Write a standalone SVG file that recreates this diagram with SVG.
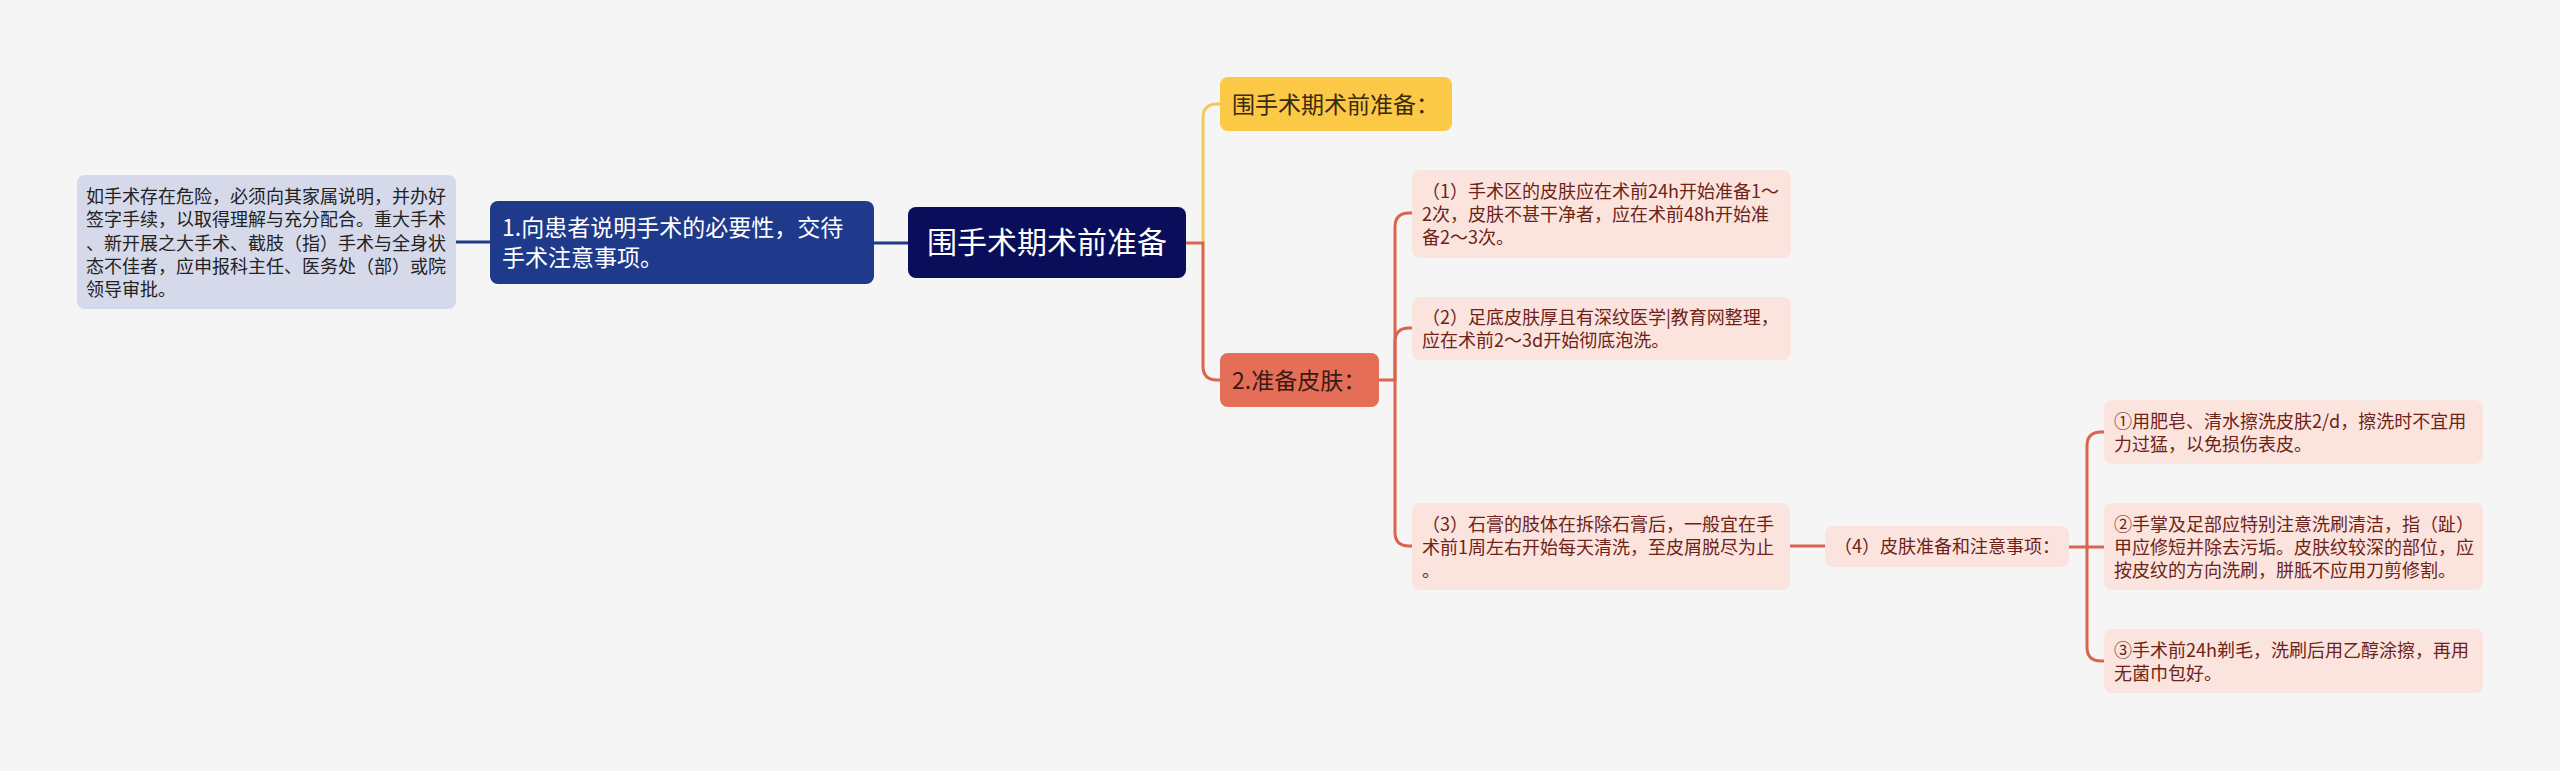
<svg xmlns="http://www.w3.org/2000/svg" width="2560" height="771" viewBox="0 0 2560 771">
<style>
text{font-family:"Noto Sans CJK SC","Noto Sans",sans-serif;}
.t18{font-size:18px;}
.pink{fill:#fbe4de;}
.pt{fill:#6e2318;}
.c{fill:none;stroke-width:3;stroke-linecap:round;}
.blue{stroke:#1f3a8a;}
.red{stroke:#d9654f;}
.yel{stroke:#f5c85a;}
</style>
<rect width="2560" height="771" fill="#f5f5f5"/>
<g id="connectors">
<path class="c blue" d="M456 242 H490"/>
<path class="c blue" d="M874 243 H908"/>
<path class="c yel" d="M1203 243 V118 Q1203 104 1217 104 H1220"/>
<path class="c red" d="M1186 243 H1203 V366 Q1203 380 1217 380 H1220"/>
<path class="c red" d="M1378 380 H1395"/>
<path class="c red" d="M1395 380 V227 Q1395 213 1409 213 H1412"/>
<path class="c red" d="M1395 380 V342 Q1395 328 1409 328 H1412"/>
<path class="c red" d="M1395 380 V532 Q1395 546 1409 546 H1412"/>
<path class="c red" d="M1790 546 H1825"/>
<path class="c red" d="M2069 547 H2087"/>
<path class="c red" d="M2087 547 V446 Q2087 432 2101 432 H2104"/>
<path class="c red" d="M2087 547 H2104"/>
<path class="c red" d="M2087 547 V647 Q2087 661 2101 661 H2104"/>
</g>
<g id="root">
<rect x="908" y="207" width="278" height="71" rx="8" fill="#0a0e5a"/>
<text x="1047" y="253" font-size="30" fill="#ffffff" text-anchor="middle">围手术期术前准备</text>
</g>
<g id="node1">
<rect x="490" y="201" width="384" height="83" rx="8" fill="#1f3a8a"/>
<text x="502" y="236" font-size="23" fill="#ffffff">1.向患者说明手术的必要性，交待</text>
<text x="502" y="266" font-size="23" fill="#ffffff">手术注意事项。</text>
</g>
<g id="node1-detail">
<rect x="77" y="175" width="379" height="134" rx="8" fill="#d5d9ea"/>
<text class="t18" fill="#222222" x="86" y="203">如手术存在危险，必须向其家属说明，并办好</text>
<text class="t18" fill="#222222" x="86" y="226">签字手续，以取得理解与充分配合。重大手术</text>
<text class="t18" fill="#222222" x="86" y="250">、新开展之大手术、截肢（指）手术与全身状</text>
<text class="t18" fill="#222222" x="86" y="273">态不佳者，应申报科主任、医务处（部）或院</text>
<text class="t18" fill="#222222" x="86" y="296">领导审批。</text>
</g>
<g id="yellow">
<rect x="1220" y="77" width="232" height="54" rx="8" fill="#fcc946"/>
<text x="1232" y="113" font-size="23" fill="#3a2a10">围手术期术前准备：</text>
</g>
<g id="skin">
<rect x="1220" y="353" width="159" height="54" rx="8" fill="#e46e58"/>
<text x="1232" y="389" font-size="23" fill="#3a1a14">2.准备皮肤：</text>
</g>
<g id="skin1">
<rect class="pink" x="1412" y="170" width="379" height="88" rx="8"/>
<text class="t18 pt" x="1422" y="198">（1）手术区的皮肤应在术前24h开始准备1～</text>
<text class="t18 pt" x="1422" y="221">2次，皮肤不甚干净者，应在术前48h开始准</text>
<text class="t18 pt" x="1422" y="244">备2～3次。</text>
</g>
<g id="skin2">
<rect class="pink" x="1412" y="297" width="379" height="63" rx="8"/>
<text class="t18 pt" x="1422" y="324">（2）足底皮肤厚且有深纹医学|教育网整理，</text>
<text class="t18 pt" x="1422" y="347">应在术前2～3d开始彻底泡洗。</text>
</g>
<g id="skin3">
<rect class="pink" x="1412" y="503" width="378" height="87" rx="8"/>
<text class="t18 pt" x="1422" y="531">（3）石膏的肢体在拆除石膏后，一般宜在手</text>
<text class="t18 pt" x="1422" y="554">术前1周左右开始每天清洗，至皮屑脱尽为止</text>
<text class="t18 pt" x="1422" y="577">。</text>
</g>
<g id="skin4">
<rect class="pink" x="1825" y="526" width="244" height="41" rx="8"/>
<text class="t18 pt" x="1947" y="553" text-anchor="middle">（4）皮肤准备和注意事项：</text>
</g>
<g id="leaf1">
<rect class="pink" x="2104" y="400" width="379" height="64" rx="8"/>
<text class="t18 pt" x="2114" y="428">①用肥皂、清水擦洗皮肤2/d，擦洗时不宜用</text>
<text class="t18 pt" x="2114" y="451">力过猛，以免损伤表皮。</text>
</g>
<g id="leaf2">
<rect class="pink" x="2104" y="503" width="379" height="87" rx="8"/>
<text class="t18 pt" x="2114" y="531">②手掌及足部应特别注意洗刷清洁，指（趾）</text>
<text class="t18 pt" x="2114" y="554">甲应修短并除去污垢。皮肤纹较深的部位，应</text>
<text class="t18 pt" x="2114" y="577">按皮纹的方向洗刷，胼胝不应用刀剪修割。</text>
</g>
<g id="leaf3">
<rect class="pink" x="2104" y="629" width="379" height="64" rx="8"/>
<text class="t18 pt" x="2114" y="657">③手术前24h剃毛，洗刷后用乙醇涂擦，再用</text>
<text class="t18 pt" x="2114" y="680">无菌巾包好。</text>
</g>
</svg>
